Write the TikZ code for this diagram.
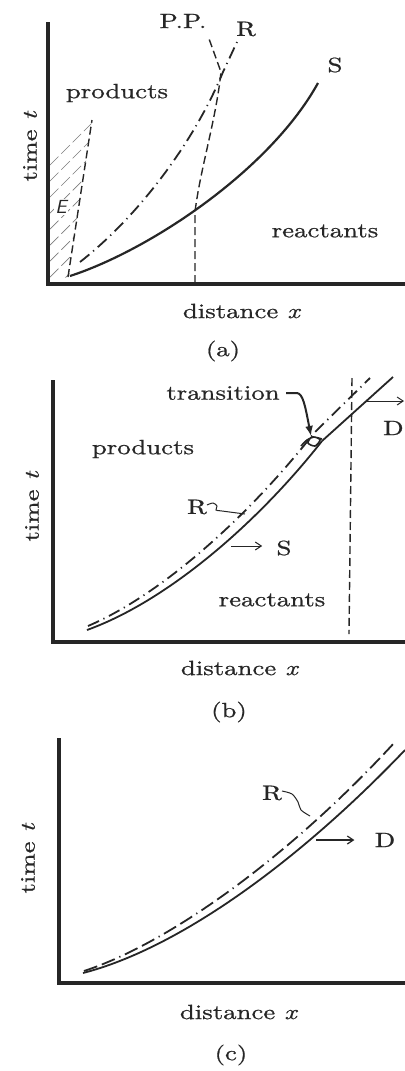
\documentclass[tikz,border=0pt]{standalone}
\usepackage{fontspec}
\setmainfont{lmroman10-regular.otf}[FakeStretch=1.3,FakeBold=0.8,ItalicFont=lmroman10-italic.otf,BoldFont=lmroman10-bold.otf]
\usepackage{tikz}
\usetikzlibrary{arrows.meta}
\definecolor{Ink}{HTML}{262626}

\begin{document}
\begin{tikzpicture}[x=0.5pt,y=-0.5pt,
  axis/.style={line width=1.6pt,draw=Ink},
  front/.style={line width=0.9pt,draw=Ink},
  react/.style={line width=0.9pt,draw=Ink,dash pattern=on 6pt off 2.5pt on 0.6pt off 2.5pt},
  reactlong/.style={line width=0.9pt,draw=Ink,dash pattern=on 7pt off 2.5pt on 7pt off 2.5pt on 0.6pt off 2.5pt},
  shock/.style={line width=0.7pt,draw=Ink,dash pattern=on 4pt off 2pt},
  hatch/.style={line width=0.35pt,draw=Ink!60,dash pattern=on 6pt off 2pt},
  lbl/.style={inner sep=0pt,font=\fontsize{10.3}{12}\selectfont,text=Ink},
  tip/.style={-{Straight Barb[length=3pt,width=4pt]},line width=0.5pt,draw=Ink},
  lead/.style={line width=0.5pt,draw=Ink}
]
  \fill[white] (0,0) rectangle (405,1071);
  \useasboundingbox (0,0) rectangle (405,1071);

  % (a)
  \draw[axis] (48,22) |- (405,284);
  \begin{scope}
    \clip (50,280) -- (69,277) -- (92,120) -- (50,150) -- cycle;
    \foreach \y in {165,181,...,300} \draw[hatch] (50,\y) -- ++(45,-45);
  \end{scope}
  \draw[shock] (68,277) -- (92,120);
  \draw[front,line width=1.1pt] (70,276) .. controls (150,250) and (270,170) .. (318,83);
  \draw[react] (80,262) .. controls (140,215) and (195,140) .. (223,72) -- (237,42);
  \draw[shock] (195,283) -- (195,212) .. controls (200,170) and (216,120) .. (221,72) -- (208,36);
  \node[lbl] (aPP) at (183,21) {P.P.};
  \node[lbl] (aR) at (246,29) {R};
  \node[lbl] (aS) at (335,65) {S};
  \node[lbl] (aProd) at (117,93) {products};
  \node[lbl] (aReact) at (325,231) {reactants};
  \node[lbl,fill=white,inner sep=0.5pt,font=\sffamily\itshape\fontsize{9.5}{11}\selectfont] (aE) at (61,207) {E};
  \node[lbl,rotate=90] (aTime) at (30,146) {time \textit{t}};
  \node[lbl] (aDist) at (242,311) {distance \textit{x}};
  \node[lbl] (aCap) at (223,351) {(a)};

  % (b)
  \draw[axis] (53,380) |- (405,642);
  \draw[front] (87,630) .. controls (170,600) and (260,520) .. (322,441) coordinate (bTr);
  \draw[front] (bTr) -- (393,377);
  \draw[react] (88,626) .. controls (165,593) and (252,512) .. (314,433) -- (370,378);
  \draw[shock] (352,378) -- (349,634);
  \draw[line width=0.8pt,draw=Ink] plot[smooth] coordinates {(301,446) (307,440) (314,437) (320,440) (315,446) (308,443) (312,437) (322,439)};
  \node[lbl] (bTrans) at (223,393) {transition};
  \coordinate (bTrPt) at (311,436);
  \draw[line width=1pt,draw=Ink,-{Latex[length=5pt,width=4pt]}] ([xshift=3pt]bTrans.east) -- (297,393) .. controls (303,394) and (305,405) .. (bTrPt);
  \node[lbl] (bProd) at (143,449) {products};
  \node[lbl] (bR) at (197,507) {R};
  \draw[lead] ([xshift=2pt]bR.east) plot[smooth] coordinates {(207,505) (213,503) (217,506) (216,510) (222,511) (245,514)};
  \node[lbl] (bS) at (284,548) {S};
  \coordinate (bSfoot) at (231,546);
  \draw[tip,shorten >=7pt] (bSfoot) -- (bS.west |- bSfoot);
  \node[lbl,anchor=east] (bD) at (404,428) {D};
  \coordinate (bDfoot) at (366,401);
  \draw[tip] (bDfoot) -- (404,401);
  \node[lbl] (bReact) at (272,600) {reactants};
  \node[lbl,rotate=90] (bTime) at (32,506) {time \textit{t}};
  \node[lbl] (bDist) at (240,668) {distance \textit{x}};
  \node[lbl] (bCap) at (229,712) {(b)};

  % (c)
  \draw[axis] (59,738) |- (405,983);
  \draw[front] (83,973) .. controls (180,948) and (300,860) .. (405,750);
  \draw[reactlong] (84,971) .. controls (172,942) and (292,854) .. (395,742);
  \node[lbl] (cR) at (272,793) {R};
  \draw[lead] plot[smooth] coordinates {(282,791) (292,794) (298,802) (301,810) (310,816)};
  \node[lbl] (cD) at (385,840) {D};
  \coordinate (cDfoot) at (316,840);
  \draw[tip,line width=0.6pt,shorten >=10pt] (cDfoot) -- (cD.west);
  \node[lbl,rotate=90] (cTime) at (28,858) {time \textit{t}};
  \node[lbl] (cDist) at (239,1012) {distance \textit{x}};
  \node[lbl] (cCap) at (231,1055) {(c)};
\end{tikzpicture}
\end{document}
